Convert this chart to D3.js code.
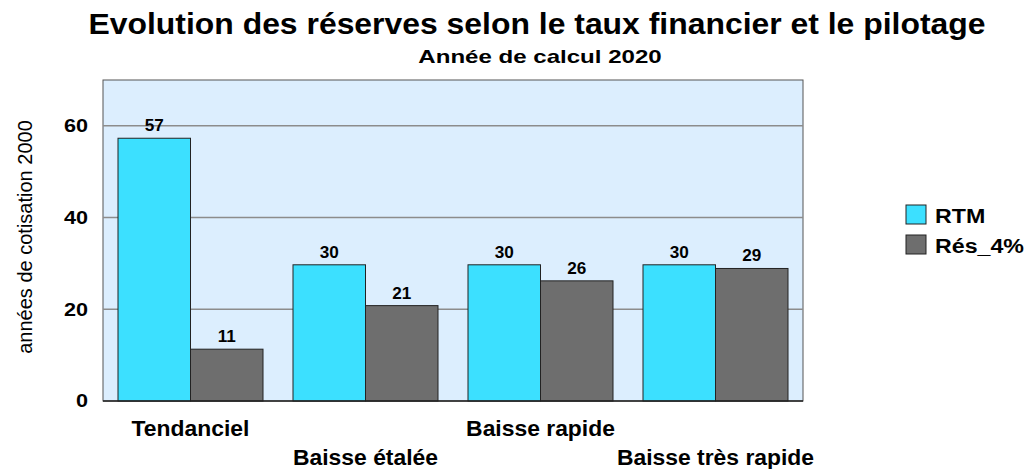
<!DOCTYPE html>
<html>
<head>
<meta charset="utf-8">
<script src="https://cdn.jsdelivr.net/npm/d3@7"></script>
<style>
  body { margin: 0; background: #fff; }
  text { font-family: "Liberation Sans", Arial, sans-serif; }
</style>
</head>
<body>
<div id="chart"></div>
<script>
// data
var categories = ["Tendanciel", "Baisse étalée", "Baisse rapide", "Baisse très rapide"];
var seriesNames = ["RTM", "Rés_4%"];
var rtm = [57.3, 29.7, 29.7, 29.7];
var res4 = [11.3, 20.8, 26.2, 28.9];
var yTicks = [0, 20, 40, 60];

var colors = ["#3ce0ff", "#6e6e6e"];

var margin = {top: 80, right: 222, bottom: 68, left: 103},
    width = 1025 - margin.left - margin.right,
    height = 469 - margin.top - margin.bottom;

// the original text is drawn a bit wider than the font, stretch it
function stretch(sel, k){
  sel.each(function(){
    var w = this.getComputedTextLength();
    d3.select(this).attr("textLength", w * k).attr("lengthAdjust", "spacingAndGlyphs");
  });
}

var svg = d3.select("#chart").append("svg")
    .attr("width", 1025)
    .attr("height", 469);

svg.append("text")
    .attr("x", 537).attr("y", 34)
    .attr("text-anchor", "middle")
    .style("font-size", "29px").style("font-weight", "bold")
    .text("Evolution des réserves selon le taux financier et le pilotage")
    .call(stretch, 1.1);

svg.append("text")
    .attr("x", 540).attr("y", 63)
    .attr("text-anchor", "middle")
    .style("font-size", "18.5px").style("font-weight", "bold")
    .text("Année de calcul 2020")
    .call(stretch, 1.3);

var g = svg.append("g")
    .attr("transform", "translate(" + margin.left + "," + margin.top + ")");

var x0 = d3.scaleBand().domain(categories).range([0, width]).paddingInner(0).paddingOuter(0);
var x1 = d3.scaleBand().domain([0, 1]).range([15, x0.bandwidth() - 15]);
var y = d3.scaleLinear().domain([0, 70]).range([height, 0]);

g.append("rect")
    .attr("width", width).attr("height", height)
    .style("fill", "#dceefe")
    .style("stroke", "#555").style("stroke-width", 1);

g.selectAll(".grid")
    .data(yTicks.filter(function(d){ return d > 0; }))
    .enter().append("line")
    .attr("x1", 0).attr("x2", width)
    .attr("y1", function(d){ return y(d); })
    .attr("y2", function(d){ return y(d); })
    .style("stroke", "#8c8c8c").style("stroke-width", 1.5);

var rows = categories.map(function(c, i){
  return {cat: c, vals: [rtm[i], res4[i]]};
});

var groups = g.selectAll(".grp")
    .data(rows)
    .enter().append("g")
    .attr("transform", function(d){ return "translate(" + x0(d.cat) + ",0)"; });

groups.selectAll("rect")
    .data(function(d){ return d.vals; })
    .enter().append("rect")
    .attr("x", function(d, i){ return x1(i); })
    .attr("y", function(d){ return y(d); })
    .attr("width", x1.bandwidth())
    .attr("height", function(d){ return height - y(d); })
    .style("fill", function(d, i){ return colors[i]; })
    .style("stroke", "#222").style("stroke-width", 1);

groups.selectAll(".val")
    .data(function(d){ return d.vals; })
    .enter().append("text")
    .attr("x", function(d, i){ return x1(i) + x1.bandwidth() / 2; })
    .attr("y", function(d){ return y(d) - 7; })
    .attr("text-anchor", "middle")
    .style("font-size", "16px").style("font-weight", "bold")
    .text(function(d){ return Math.round(d); })
    .call(stretch, 1.07);

// baseline
g.append("line")
    .attr("x1", 0).attr("x2", width)
    .attr("y1", height).attr("y2", height)
    .style("stroke", "#222").style("stroke-width", 1.5);

// y axis
var yAxis = g.append("g")
    .call(d3.axisLeft(y).tickValues(yTicks).tickSize(0).tickPadding(15));
yAxis.select(".domain").remove();
yAxis.selectAll("text")
    .style("font-size", "18px").style("font-weight", "bold")
    .style("font-family", "'Liberation Sans', Arial, sans-serif")
    .attr("fill", "#000")
    .call(stretch, 1.2);

svg.append("text")
    .attr("transform", "translate(32,237) rotate(-90)")
    .attr("text-anchor", "middle")
    .style("font-size", "20px")
    .text("années de cotisation 2000");

// x axis labels, staggered
var xAxis = g.append("g")
    .attr("transform", "translate(0," + height + ")")
    .call(d3.axisBottom(x0).tickSize(0));
xAxis.select(".domain").remove();
xAxis.selectAll("text")
    .attr("dy", null)
    .attr("y", function(d, i){ return i % 2 === 0 ? 35 : 64; })
    .style("font-size", "22px").style("font-weight", "bold")
    .style("font-family", "'Liberation Sans', Arial, sans-serif")
    .attr("fill", "#000")
    .call(stretch, 1.04);

// legend
var legend = svg.append("g").attr("transform", "translate(906,205)");
var li = legend.selectAll("g")
    .data(seriesNames)
    .enter().append("g")
    .attr("transform", function(d, i){ return "translate(0," + (i * 30) + ")"; });
li.append("rect")
    .attr("width", 20).attr("height", 19)
    .style("fill", function(d, i){ return colors[i]; })
    .style("stroke", "#222").style("stroke-width", 1);
li.append("text")
    .attr("x", 29).attr("y", 18)
    .style("font-size", "20px").style("font-weight", "bold")
    .text(function(d){ return d; })
    .call(stretch, 1.16);
</script>
</body>
</html>
